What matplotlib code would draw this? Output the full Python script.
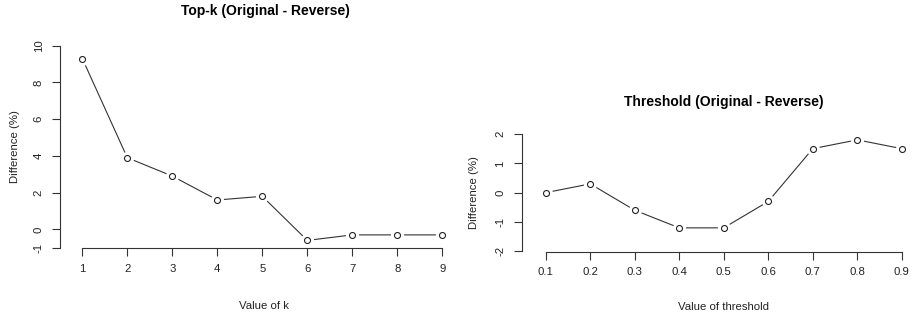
import matplotlib
matplotlib.use("Agg")
import matplotlib.pyplot as plt

plt.rcParams['font.family'] = ['Liberation Sans', 'DejaVu Sans']
plt.rcParams['axes.unicode_minus'] = False

# Data
k_values = [1, 2, 3, 4, 5, 6, 7, 8, 9]
topk_diff = [9.3, 3.9, 2.9, 1.6, 1.8, -0.6, -0.3, -0.3, -0.3]
topk_yticks = [-1, 0, 2, 4, 6, 8, 10]

thr_values = [0.1, 0.2, 0.3, 0.4, 0.5, 0.6, 0.7, 0.8, 0.9]
thr_diff = [0.0, 0.3, -0.6, -1.2, -1.2, -0.3, 1.5, 1.8, 1.5]
thr_yticks = [-2, -1, 0, 1, 2]
thr_xtick_labels = ["0.1", "0.2", "0.3", "0.4", "0.5", "0.6", "0.7", "0.8", "0.9"]

W, H = 914, 324
fig = plt.figure(figsize=(W / 100, H / 100), dpi=100)

def px_axes(l, r, t, b):
    return fig.add_axes([l / W, 1 - b / H, (r - l) / W, (b - t) / H])

LBL = 8.2
AX_COLOR = '#333333'
TXT = '#222222'

def style(ax, xs, ys, xlim, ylim, yticks, xticklabels, xbounds, ybounds,
          xlabel, ylabel, xl_coords, yl_coords):
    ax.plot(xs, ys, color='#333333', lw=0.8, zorder=2)
    ax.plot(xs, ys, ls='none', marker='o', ms=9.5, mfc='white', mec='none', zorder=3)
    ax.plot(xs, ys, ls='none', marker='o', ms=4.3, mfc='white', mec='#222222',
            mew=0.8, zorder=4)
    ax.set_xlim(*xlim)
    ax.set_ylim(*ylim)
    for s in ['top', 'right']:
        ax.spines[s].set_visible(False)
    for s in ['left', 'bottom']:
        ax.spines[s].set_color(AX_COLOR)
        ax.spines[s].set_linewidth(0.8)
    ax.spines['left'].set_bounds(*ybounds)
    ax.spines['bottom'].set_bounds(*xbounds)
    ax.set_xticks(xs)
    ax.set_xticklabels(xticklabels)
    ax.set_yticks(yticks)
    ax.set_yticklabels([str(v) for v in yticks], rotation=90, va='center')
    ax.tick_params(axis='both', direction='out', length=5.7, width=0.8,
                   color=AX_COLOR, labelsize=LBL, labelcolor=TXT)
    ax.tick_params(axis='y', pad=6)
    ax.tick_params(axis='x', pad=5.5)
    ax.set_xlabel(xlabel, fontsize=LBL, color=TXT, va='center')
    ax.set_ylabel(ylabel, fontsize=LBL, color=TXT, va='center')
    ax.xaxis.set_label_coords(*xl_coords)
    ax.yaxis.set_label_coords(*yl_coords)
    ax.patch.set_visible(False)

ax1 = px_axes(60, 456.7, 37.6, 248.3)
style(ax1, k_values, topk_diff, (0.504, 9.32), (-1.03, 10.44), topk_yticks,
      [str(v) for v in k_values], (1, 9), (-1, 10),
      'Value of k', 'Difference (%)', (0.514, -0.274), (-0.113, 0.481))

ax2 = px_axes(521.7, 912.9, 129.3, 251.5)
style(ax2, thr_values, thr_diff, (0.046, 0.925), (-2.006, 2.16), thr_yticks,
      thr_xtick_labels, (0.1, 0.9), (-2, 2),
      'Value of threshold', 'Difference (%)', (0.5146, -0.452), (-0.122, 0.479))

fig.text(265 / W, 1 - 10.5 / H, 'Top-k (Original - Reverse)', fontsize=10,
         fontweight='bold', ha='center', va='center', color='black')
fig.text(724 / W, 1 - 101.7 / H, 'Threshold (Original - Reverse)', fontsize=10,
         fontweight='bold', ha='center', va='center', color='black')

fig.savefig('out.png', dpi=100, facecolor='white')
